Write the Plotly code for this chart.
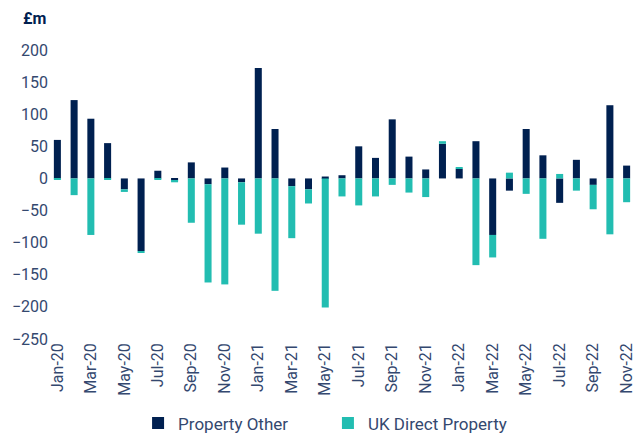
import plotly.graph_objects as go

months = ["Jan-20","Feb-20","Mar-20","Apr-20","May-20","Jun-20","Jul-20","Aug-20","Sep-20","Oct-20","Nov-20","Dec-20",
          "Jan-21","Feb-21","Mar-21","Apr-21","May-21","Jun-21","Jul-21","Aug-21","Sep-21","Oct-21","Nov-21","Dec-21",
          "Jan-22","Feb-22","Mar-22","Apr-22","May-22","Jun-22","Jul-22","Aug-22","Sep-22","Oct-22","Nov-22"]

property_other = [60, 122, 93, 55, -17, -113, 12, -3, 25, -9, 17, -6,
                  172, 77, -12, -17, 3, 5, 50, 32, 92, 34, 14, 54,
                  15, 58, -88, -19, 77, 36, -38, 29, -10, 114, 20]

uk_direct = [-1, -26, -88, -2, -4, -2, -2, -3, -69, -153, -165, -66,
             -86, -175, -81, -22, -201, -28, -42, -28, -10, -22, -29, 4,
             1.5, -135, -35, 9, -24, -94, 7, -19, -38, -87, -37]

tick_labels = months[::2]

navy = "#002050"
teal = "#22BDB1"
txt = "#34486F"
font = "Roboto"

fig = go.Figure()
fig.add_trace(go.Bar(x=months, y=property_other, name="Property Other", legend="legend",
                     marker=dict(color=navy, line=dict(width=0))))
fig.add_trace(go.Bar(x=months, y=uk_direct, name="UK Direct Property", legend="legend2",
                     marker=dict(color=teal, line=dict(width=0))))

leg_common = dict(orientation="h", xanchor="left", y=-0.292, yanchor="middle",
                  font=dict(size=17, color=txt), bgcolor="rgba(0,0,0,0)")

fig.update_layout(
    width=637, height=433,
    barmode="relative",
    bargap=0.58,
    paper_bgcolor="white", plot_bgcolor="white",
    margin=dict(l=49, r=2, t=50, b=94, autoexpand=False),
    font=dict(family=font, size=16, color=txt),
    showlegend=True,
    legend=dict(x=0.152, **leg_common),
    legend2=dict(x=0.476, **leg_common),
    annotations=[dict(text="<b>£m</b>", xref="paper", yref="paper", x=-0.024, y=1.108,
                      xanchor="center", yanchor="middle", showarrow=False,
                      font=dict(size=16, color=navy, family=font))],
)
fig.update_xaxes(type="category", categoryorder="array", categoryarray=months,
                 tickmode="array", tickvals=tick_labels, ticktext=tick_labels,
                 tickangle=-90, showgrid=False, showline=False, ticks="", automargin=False,
                 tickfont=dict(size=16, color=txt), range=[-0.5, 34.5])
fig.update_yaxes(range=[-250, 200], tickvals=list(range(-250, 201, 50)),
                 showgrid=False, zeroline=False, showline=False, ticks="", automargin=False,
                 tickfont=dict(size=16, color=txt))

fig.write_html("out.html", config={"displayModeBar": False},
               post_script="document.body.style.margin='0';document.body.style.overflow='hidden';")
